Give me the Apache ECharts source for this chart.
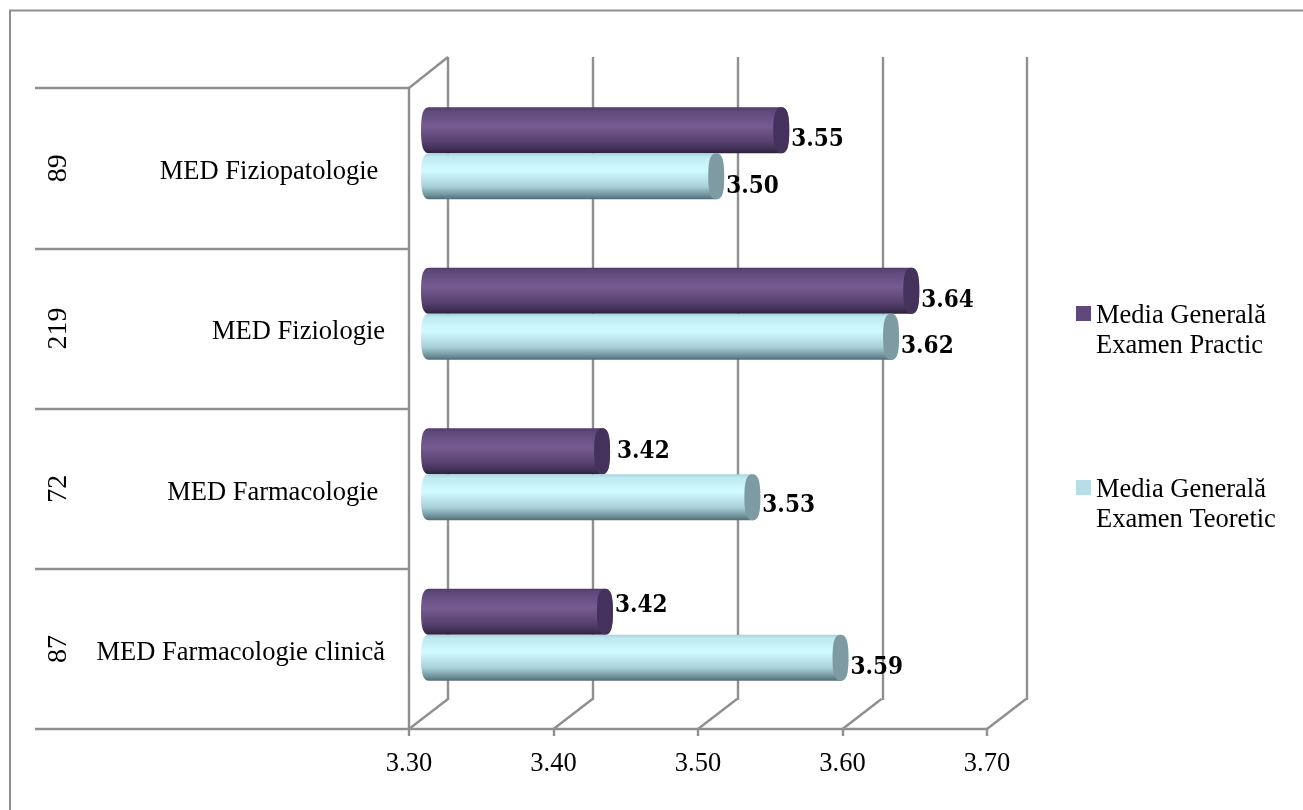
<!DOCTYPE html>
<html><head><meta charset="utf-8">
<style>html,body{margin:0;padding:0;background:#fff}#c{width:1303px;height:810px}</style>
<script src="https://cdn.jsdelivr.net/npm/echarts@6/dist/echarts.min.js"></script>
</head><body><div id="c"></div>
<script>
const categories = ['MED Fiziopatologie\u00a0', 'MED Fiziologie', 'MED Farmacologie\u00a0', 'MED Farmacologie clinică'];
const counts = ['89', '219', '72', '87'];
const ticks = [3.3, 3.4, 3.5, 3.6, 3.7];
const practicValues = [3.55, 3.64, 3.426, 3.428];
const teoreticValues = [3.505, 3.626, 3.53, 3.591];
const practicLabels = ['3.55', '3.64', '3.42', '3.42'];
const teoreticLabels = ['3.50', '3.62', '3.53', '3.59'];
const practicName = 'Media Generală\nExamen Practic';
const teoreticName = 'Media Generală\nExamen Teoretic';

const GRAY = '#8f8f8f';
const LW = 2.4;
const FS = 26.5;
const serif = '"Liberation Serif","Times New Roman",serif';
const depth = [39, -30];
const grad = (stops) => ({type:'linear',x:0,y:0,x2:0,y2:1,colorStops:stops.map(s=>({offset:s[0],color:s[1]}))});
const looks = {
  practic:{body:grad([[0,'#4f3b6a'],[0.08,'#5f497a'],[0.42,'#755b92'],[0.75,'#57426f'],[0.92,'#3e2e53'],[1,'#2b203b']]),cap:'#44325c',dy:-46,nudge:[10,10,1,-6]},
  teoretic:{body:grad([[0,'#a9d3dc'],[0.08,'#c0eaf2'],[0.38,'#d0fbff'],[0.72,'#a9d0d9'],[0.92,'#6d8e97'],[1,'#526c74']]),cap:'#7e9aa2',dy:0,nudge:[11,10,9,10]}
};
const K = 0.72;
const capPath = (cx, cy, rx, ry) => {
  const a = rx * K, b = ry * K;
  return `M${cx},${cy-ry}C${cx+a},${cy-ry},${cx+rx},${cy-b},${cx+rx},${cy}C${cx+rx},${cy+b},${cx+a},${cy+ry},${cx},${cy+ry}C${cx-a},${cy+ry},${cx-rx},${cy+b},${cx-rx},${cy}C${cx-rx},${cy-b},${cx-a},${cy-ry},${cx},${cy-ry}Z`;
};
const bodyPath = (xa, xb, cy, rx, ry) => {
  const a = rx * K, b = ry * K;
  return `M${xa},${cy-ry}L${xb},${cy-ry}C${xb+a},${cy-ry},${xb+rx},${cy-b},${xb+rx},${cy}C${xb+rx},${cy+b},${xb+a},${cy+ry},${xb},${cy+ry}L${xa},${cy+ry}C${xa-a},${cy+ry},${xa-rx},${cy+b},${xa-rx},${cy}C${xa-rx},${cy-b},${xa-a},${cy-ry},${xa},${cy-ry}Z`;
};
const cylinder = (key, labels) => (params, api) => {
  const look = looks[key];
  const p0 = api.coord([ticks[0], api.value(1)]);
  const p1 = api.coord([api.value(0), api.value(1)]);
  const h = 46, rx = 8;
  const y = p0[1] + look.dy;
  const i = params.dataIndex;
  const xl = p0[0] - 7 + rx, xr = p1[0] - rx;
  return {type:'group',children:[
    {type:'path',shape:{pathData:bodyPath(xl,xr,y+h/2,rx,h/2)},style:{fill:look.body}},
    {type:'path',shape:{pathData:capPath(xr,y+h/2,rx,h/2)},style:{fill:look.cap}},
    {type:'text',z2:5,style:{text:labels[i],x:p1[0]+2+(i===2&&key==='practic'?5:0),y:y+h/2+look.nudge[i],
      verticalAlign:'middle',align:'left',fill:'#000',font:'bold 24px "DejaVu Serif Condensed","DejaVu Serif",serif'}}
  ]};
};
const floorLines = (params, api) => {
  const a = api.coord([api.value(0), 0]);
  return {type:'line',shape:{x1:a[0],y1:729,x2:a[0]+depth[0],y2:729+depth[1]},style:{stroke:GRAY,lineWidth:LW}};
};
const topLine = (params, api) => {
  const a = api.coord([api.value(0), 0]);
  return {type:'line',shape:{x1:a[0],y1:88,x2:a[0]+depth[0],y2:57},style:{stroke:GRAY,lineWidth:LW}};
};
const chart = echarts.init(document.getElementById('c'), null, {renderer:'canvas'});
const axisCommon = {min:3.3,max:3.7,interval:0.1};
chart.setOption({
  animation:false,
  backgroundColor:'#fff',
  graphic:[{type:'rect',silent:true,shape:{x:10,y:10.5,width:1400,height:900},style:{fill:'none',stroke:GRAY,lineWidth:2}}],
  grid:[
    {left:409,width:578,top:88,height:641},
    {left:448,width:579,top:57,height:643},
    {left:428,width:578,top:73,height:642}
  ],
  xAxis:[
    {...axisCommon,type:'value',gridIndex:0,position:'bottom',
     axisLine:{show:true,lineStyle:{color:GRAY,width:LW}},
     axisTick:{show:true,length:7,lineStyle:{color:GRAY,width:LW}},
     splitLine:{show:false},
     axisLabel:{margin:22,color:'#000',fontFamily:serif,fontSize:FS,formatter:v=>v.toFixed(2)}},
    {...axisCommon,type:'value',gridIndex:1,axisLine:{show:false},axisTick:{show:false},axisLabel:{show:false},
     splitLine:{show:true,lineStyle:{color:GRAY,width:LW}}},
    {...axisCommon,type:'value',gridIndex:2,axisLine:{show:false},axisTick:{show:false},axisLabel:{show:false},splitLine:{show:false}}
  ],
  yAxis:[
    {type:'category',gridIndex:0,inverse:true,data:categories,
     axisLine:{show:true,onZero:false,lineStyle:{color:GRAY,width:LW}},
     axisTick:{show:true,length:374,lineStyle:{color:GRAY,width:LW}},
     axisLabel:{margin:24,formatter:v=>'{a|'+v+'}',
       rich:{a:{color:'#000',fontFamily:serif,fontSize:FS,padding:[8,0,0,0]}}}},
    {type:'category',gridIndex:0,inverse:true,position:'left',data:counts,
     axisLine:{show:false},axisTick:{show:false},
     axisLabel:{margin:350,rotate:90,color:'#000',fontFamily:serif,fontSize:28,verticalAlign:'middle',align:'center'}},
    {type:'category',gridIndex:1,inverse:true,data:categories,show:false},
    {type:'category',gridIndex:2,inverse:true,data:categories,show:false}
  ],
  legend:{
    orient:'vertical',left:1071,top:296,itemGap:114,itemWidth:15,itemHeight:50,
    icon:'path://M0,0H15V15H0Z M0,50L0,50Z',
    textStyle:{color:'#000',fontFamily:serif,fontSize:FS,lineHeight:30},
    data:[{name:practicName,itemStyle:{color:'#5f497a'}},{name:teoreticName,itemStyle:{color:'#b7dde8'}}]
  },
  series:[
    {type:'custom',name:'floor',xAxisIndex:0,yAxisIndex:0,z:1,silent:true,renderItem:floorLines,data:ticks.map(t=>[t,0])},
    {type:'custom',name:'top',xAxisIndex:0,yAxisIndex:0,z:1,silent:true,renderItem:topLine,data:[[ticks[0],0]]},
    {type:'custom',name:practicName,xAxisIndex:2,yAxisIndex:3,z:3,itemStyle:{color:'#5f497a'},
     renderItem:cylinder('practic',practicLabels),encode:{x:0,y:1},data:practicValues.map((v,i)=>[v,i])},
    {type:'custom',name:teoreticName,xAxisIndex:2,yAxisIndex:3,z:3,itemStyle:{color:'#b7dde8'},
     renderItem:cylinder('teoretic',teoreticLabels),encode:{x:0,y:1},data:teoreticValues.map((v,i)=>[v,i])}
  ]
});
</script></body></html>
